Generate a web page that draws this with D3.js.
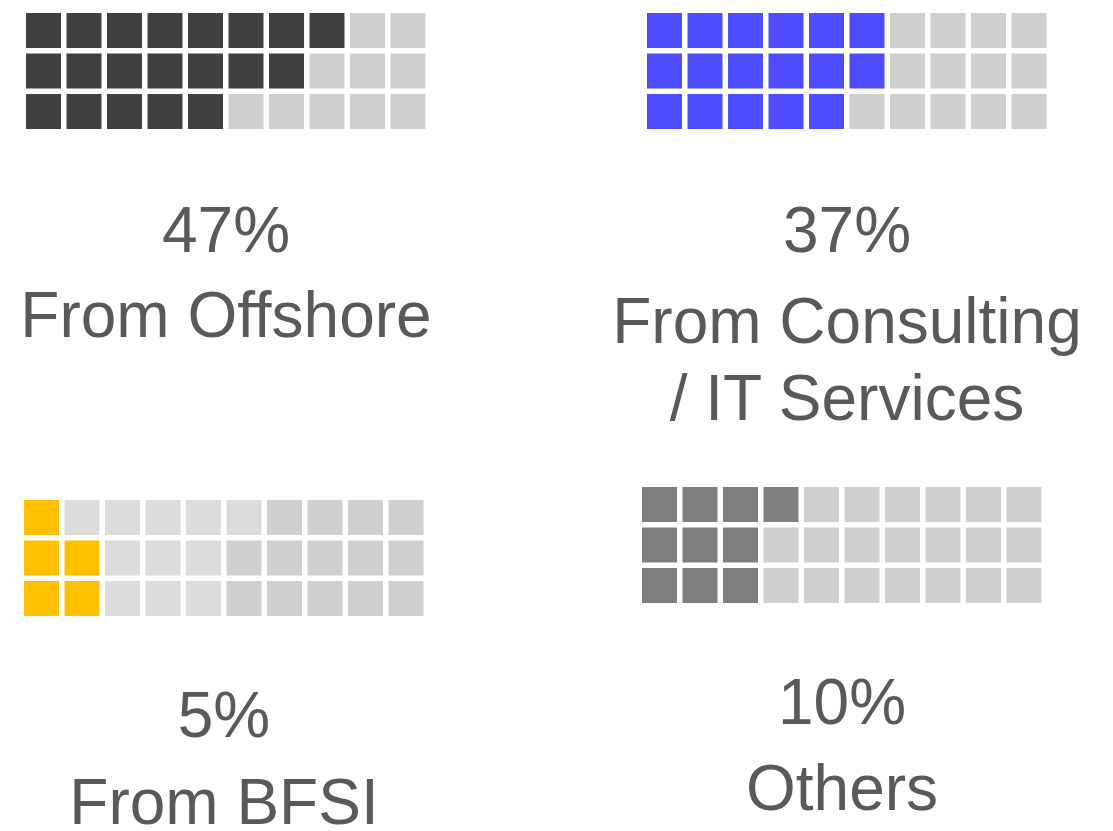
<!DOCTYPE html>
<html>
<head>
<meta charset="utf-8">
<script src="https://cdn.jsdelivr.net/npm/d3@7"></script>
<style>
  body { margin: 0; background: #fff; }
  text { font-family: "Liberation Sans", Arial, sans-serif; fill: #595959; }
</style>
</head>
<body>
<div id="chart"></div>
<script>
// values
const percents = [47, 37, 5, 10];
const labels = [["From Offshore"], ["From Consulting", "/ IT Services"], ["From BFSI"], ["Others"]];
// filled squares in each of the 3 rows
const filledPerRow = [[8, 7, 5], [6, 6, 5], [1, 2, 2], [4, 3, 3]];
// lighter grey squares after the filled ones (BFSI panel only)
const lightPerRow = [[0, 0, 0], [0, 0, 0], [5, 3, 3], [0, 0, 0]];
const fillColors = ["#404040", "#4d4dff", "#ffc000", "#7f7f7f"];

const emptyColor = "#cfcfcf";
const lightColor = "#dcdcdc";

// layout of each panel: grid origin, text centre and baselines
const panels = [
    { x: 26, y: 13, cx: 226, base: [252, 337] },
    { x: 647, y: 13, cx: 847, base: [252, 343, 420] },
    { x: 24, y: 500, cx: 224, base: [737, 824] },
    { x: 642, y: 487, cx: 842, base: [724, 810] }
];

const svg = d3.select("#chart")
    .append("svg")
    .attr("width", 1113)
    .attr("height", 831);

const col = d3.scaleBand().domain(d3.range(10)).range([0, 399.5]).paddingInner(5.5 / 40.5);
const row = d3.scaleBand().domain(d3.range(3)).range([0, 116]).paddingInner(5.5 / 40.5);

panels.forEach((p, i) => {
    const cells = [];
    for (let r = 0; r < 3; r++) {
        for (let c = 0; c < 10; c++) {
            let color = emptyColor;
            if (c < filledPerRow[i][r]) color = fillColors[i];
            else if (c < filledPerRow[i][r] + lightPerRow[i][r]) color = lightColor;
            cells.push({ r: r, c: c, color: color });
        }
    }

    const g = svg.append("g").attr("transform", `translate(${p.x},${p.y})`);
    g.selectAll("rect")
        .data(cells)
        .enter()
        .append("rect")
        .attr("x", d => col(d.c))
        .attr("y", d => row(d.r))
        .attr("width", col.bandwidth())
        .attr("height", row.bandwidth())
        .attr("fill", d => d.color);

    const lines = [percents[i] + "%"].concat(labels[i]);
    svg.selectAll(null)
        .data(lines)
        .enter()
        .append("text")
        .attr("x", p.cx)
        .attr("y", (d, j) => p.base[j])
        .attr("text-anchor", "middle")
        .style("font-size", "64px")
        .text(d => d);
});
</script>
</body>
</html>
